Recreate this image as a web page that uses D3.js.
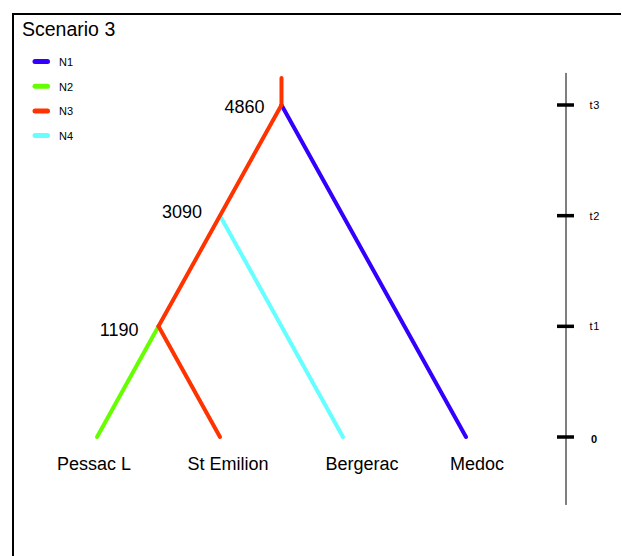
<!DOCTYPE html>
<html><head><meta charset="utf-8">
<script src="https://cdn.jsdelivr.net/npm/d3@7"></script>
<style>body{margin:0;background:#fff}svg{display:block;font-family:"Liberation Sans",Arial,Helvetica,sans-serif}</style>
</head><body>
<svg id="c" width="622" height="556"></svg>
<script>
const title = "Scenario 3";
const populations = ["Pessac L", "St Emilion", "Bergerac", "Medoc"];
const eventTimes = [0, 1190, 3090, 4860];
const timeLabels = ["0", "t1", "t2", "t3"];
const mergeRightPop = [null, "St Emilion", "Bergerac", "Medoc"]; // right-hand pop of each merge
const legendNames = ["N1", "N2", "N3", "N4"];
const legendColors = ["#3300ff", "#66ff00", "#ff3300", "#66ffff"];
const popSize = {"Pessac L": "N2", "St Emilion": "N3", "Bergerac": "N4", "Medoc": "N1"};
const ancestralSize = "N3";

// layout constants
const nodeLabelDx = [0, -20, -18, -17];
const nodeLabelDy = [0, 9.7, 2, 7.7];
const labelShift = [-3, 8, 19, 11];

const svg = d3.select("#c");
const color = d3.scaleOrdinal().domain(legendNames).range(legendColors);
const x = d3.scalePoint().domain(populations).range([97, 466]);
const y = d3.scaleLinear().domain([0, 3]).range([437, 105]);
const half = (x("St Emilion") - x("Pessac L")) / 2;

// border
svg.append("path").attr("d", "M13,556 L13,14 L621,14").attr("fill", "none").attr("stroke", "#000").attr("stroke-width", 2);

svg.append("text").attr("x", 22).attr("y", 36).attr("font-size", 19.5).text(title);

// legend
const lg = svg.append("g");
legendNames.forEach((n, i) => {
  const yy = 61.5 + i * 24.7;
  lg.append("line").attr("x1", 35).attr("x2", 47.5).attr("y1", yy).attr("y2", yy)
    .attr("stroke", color(n)).attr("stroke-width", 5).attr("stroke-linecap", "round");
  lg.append("text").attr("x", 59).attr("y", yy + 4.5).attr("font-size", 11).text(n);
});

// nodes: event level k at x = x(right pop) - k*half
const nodes = eventTimes.map((t, k) => k === 0 ? null : {x: x(mergeRightPop[k]) - k * half, y: y(k), t, k});

const branches = [];
branches.push({x1: x("Pessac L"), y1: y(0), x2: nodes[1].x, y2: nodes[1].y, c: popSize["Pessac L"]});
branches.push({x1: x("St Emilion"), y1: y(0), x2: nodes[1].x, y2: nodes[1].y, c: popSize["St Emilion"]});
branches.push({x1: x("Bergerac"), y1: y(0), x2: nodes[2].x, y2: nodes[2].y, c: popSize["Bergerac"]});
branches.push({x1: x("Medoc"), y1: y(0), x2: nodes[3].x, y2: nodes[3].y, c: popSize["Medoc"]});
branches.push({x1: nodes[1].x, y1: nodes[1].y, x2: nodes[3].x, y2: nodes[3].y, c: ancestralSize});
branches.push({x1: nodes[3].x, y1: nodes[3].y, x2: nodes[3].x, y2: y(3.245), c: ancestralSize});

svg.append("g").selectAll("line").data(branches).join("line")
  .attr("x1", d => d.x1).attr("y1", d => d.y1).attr("x2", d => d.x2).attr("y2", d => d.y2)
  .attr("stroke", d => color(d.c)).attr("stroke-width", 4).attr("stroke-linecap", "round");

// node labels
svg.append("g").selectAll("text").data(nodes.filter(d => d)).join("text")
  .attr("x", d => d.x + nodeLabelDx[d.k]).attr("y", d => d.y + nodeLabelDy[d.k]).attr("text-anchor", "end").attr("font-size", 18)
  .text(d => d.t);

// leaf labels
svg.append("g").selectAll("text").data(populations).join("text")
  .attr("x", (d, i) => x(d) + labelShift[i]).attr("y", y(0) + 32.5).attr("text-anchor", "middle").attr("font-size", 18)
  .text(d => d);

// time axis
const ax = 566;
svg.append("line").attr("x1", ax).attr("x2", ax).attr("y1", y(3.29)).attr("y2", y(-0.614)).attr("stroke", "#000").attr("stroke-width", 1);
const tg = svg.append("g").selectAll("g").data(timeLabels).join("g").attr("transform", (d, i) => `translate(0,${y(i)})`);
tg.append("line").attr("x1", ax - 9).attr("x2", ax + 8).attr("stroke", "#000").attr("stroke-width", 3.5);
tg.append("text").attr("x", (d, i) => i === 0 ? 591 : 589.5).attr("y", (d, i) => i === 0 ? 6 : 4).attr("font-size", 11)
  .attr("letter-spacing", (d, i) => i === 0 ? 0 : 0.8)
  .attr("font-weight", (d, i) => i === 0 ? "bold" : "normal").text(d => d);
</script>
</body></html>
